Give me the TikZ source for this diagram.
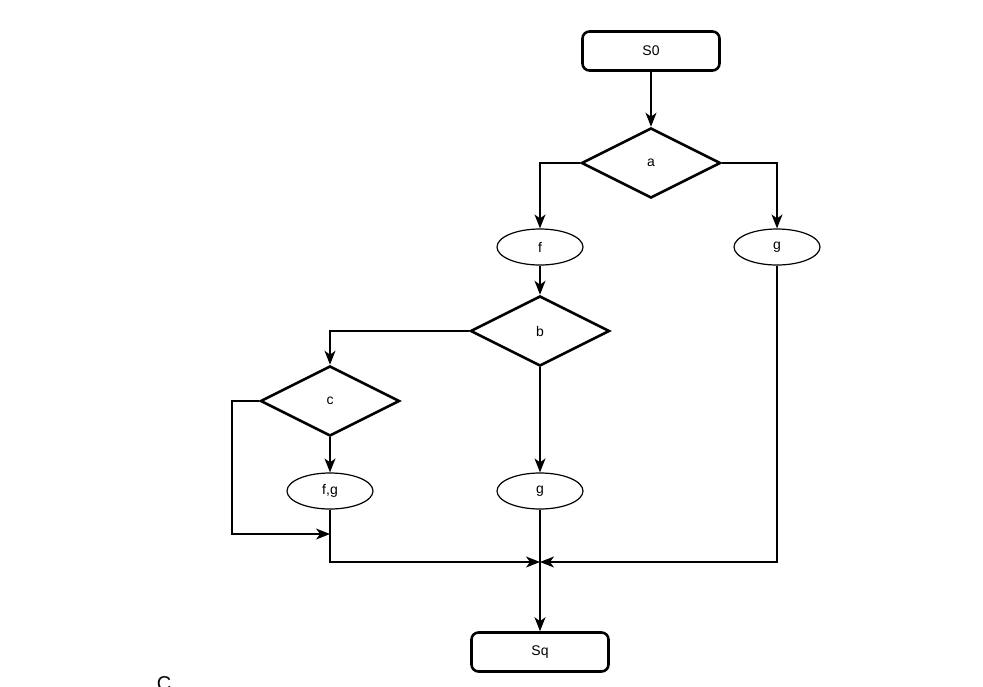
\documentclass[tikz,border=0pt]{standalone}
\usepackage{fontspec}
\setmainfont{Liberation Sans}
\usetikzlibrary{shapes.geometric,arrows.meta}
\begin{document}
\begin{tikzpicture}[x=1pt,y=-1pt,
  term/.style={draw,line width=2.6pt,rounded corners=7pt,minimum width=137pt,minimum height=39pt,inner sep=0pt,font=\fontsize{14}{16}\selectfont},
  dec/.style={draw,line width=2.6pt,diamond,minimum width=139pt,minimum height=70pt,inner sep=0pt,font=\fontsize{14}{16}\selectfont},
  act/.style={draw,line width=1.2pt,ellipse,minimum width=86pt,minimum height=36pt,inner sep=0pt,font=\fontsize{14}{16}\selectfont},
  arr/.style={line width=1.3pt,-{Stealth[length=14pt,width=11pt,inset=4pt]}}]
\useasboundingbox (0,0) rectangle (983,686);
\clip (0,0) rectangle (983,686);
\node[term] (s0) at (651,51) {S0};
\node[dec] (a) at (651,163) {a};
\node[act] (f) at (540,247) {f};
\node[act] (g1) at (777,247) {g};
\node[dec] (b) at (540,331) {b};
\node[dec] (c) at (330,401) {c};
\node[act] (fg) at (330,491) {f,g};
\node[act] (g2) at (540,491) {g};
\node[term] (sq) at (540,652) {Sq};
\coordinate (k1) at (232,534);
\coordinate (m1) at (330,534);
\coordinate (m2) at (540,562);
\node[inner sep=0pt,anchor=north,font=\fontsize{20}{22}\selectfont] (cc) at (164,676) {C};
\draw[arr] (s0.south) -- (a.north);
\draw[arr] (a.west) -| (f.north);
\draw[arr] (a.east) -| (g1.north);
\draw[arr] (f.south) -- (b.north);
\draw[arr] (b.west) -| (c.north);
\draw[arr] (c.south) -- (fg.north);
\draw[arr] (b.south) -- (g2.north);
\draw[arr] (c.west) -| (k1) -- (m1);
\draw[arr] (fg.south) |- (m2);
\draw[arr] (g1.south) |- (m2);
\draw[arr] (g2.south) -- (sq.north);
\end{tikzpicture}
\end{document}
